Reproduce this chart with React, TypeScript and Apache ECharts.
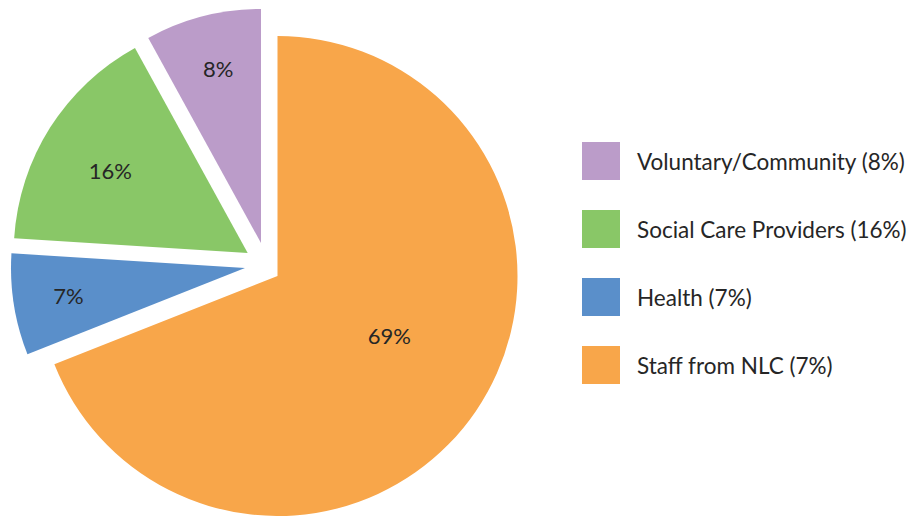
import React, { useEffect, useRef } from "react";
import * as echarts from "echarts";

const categories = ["Staff from NLC", "Health", "Social Care Providers", "Voluntary/Community"];
const values = [69, 7, 16, 8];
const sliceLabels = ["69%", "7%", "16%", "8%"];
const legendOrder = ["Voluntary/Community", "Social Care Providers", "Health", "Staff from NLC"];
const legendTexts = ["Voluntary/Community (8%)", "Social Care Providers (16%)", "Health (7%)", "Staff from NLC (7%)"];
const colors = ["#F8A64A", "#5A8FCA", "#89C767", "#BB9CC9"];
// layout of each (exploded) slice: apex position, radius, label offset
const sliceCenters: number[][] = [[277.5, 276], [245, 268], [247.7, 253], [261, 243]];
const sliceRadii = [240, 234, 234, 234];
const labelOffsets: number[][] = [[10, -10], [-58, 9], [-36, -18], [-13, -58]];

const FONT = "'Source Sans Pro', Lato, 'Noto Sans', sans-serif";

export default function App() {
  const ref = useRef<HTMLDivElement>(null);
  useEffect(() => {
    if (!ref.current) return;
    const chart = echarts.init(ref.current, undefined, { renderer: "svg" });
    const hidden = (v: number) => ({
      name: "",
      value: v,
      itemStyle: { color: "rgba(0,0,0,0)" },
      label: { show: false },
    });
    const series = values.map((v, i) => {
      const before = values.slice(0, i).reduce((a, b) => a + b, 0);
      const after = values.slice(i + 1).reduce((a, b) => a + b, 0);
      const data: any[] = [];
      if (before > 0) data.push(hidden(before));
      data.push({ name: categories[i], value: v, itemStyle: { color: colors[i] } });
      if (after > 0) data.push(hidden(after));
      return {
        type: "pie",
        silent: true,
        center: sliceCenters[i],
        radius: sliceRadii[i],
        startAngle: 90,
        clockwise: true,
        emphasis: { disabled: true },
        labelLine: { show: false },
        label: {
          show: true,
          position: "inside",
          fontFamily: FONT,
          fontSize: 22,
          color: "#262626",
          formatter: sliceLabels[i],
          offset: labelOffsets[i],
        },
        data,
      };
    });
    chart.setOption({
      animation: false,
      legend: {
        orient: "vertical",
        left: 577,
        top: 137,
        itemWidth: 38,
        itemHeight: 38,
        itemGap: 30,
        icon: "rect",
        selectedMode: false,
        data: legendOrder,
        formatter: (name: string) => legendTexts[legendOrder.indexOf(name)],
        textStyle: {
          fontFamily: FONT,
          fontSize: 22.5,
          color: "#262626",
          padding: [0, 0, 0, 12],
        },
      },
      series,
    });
    return () => chart.dispose();
  }, []);
  return (
    <div
      ref={ref}
      style={{ position: "absolute", left: 0, top: 0, width: 911, height: 516 }}
    />
  );
}
